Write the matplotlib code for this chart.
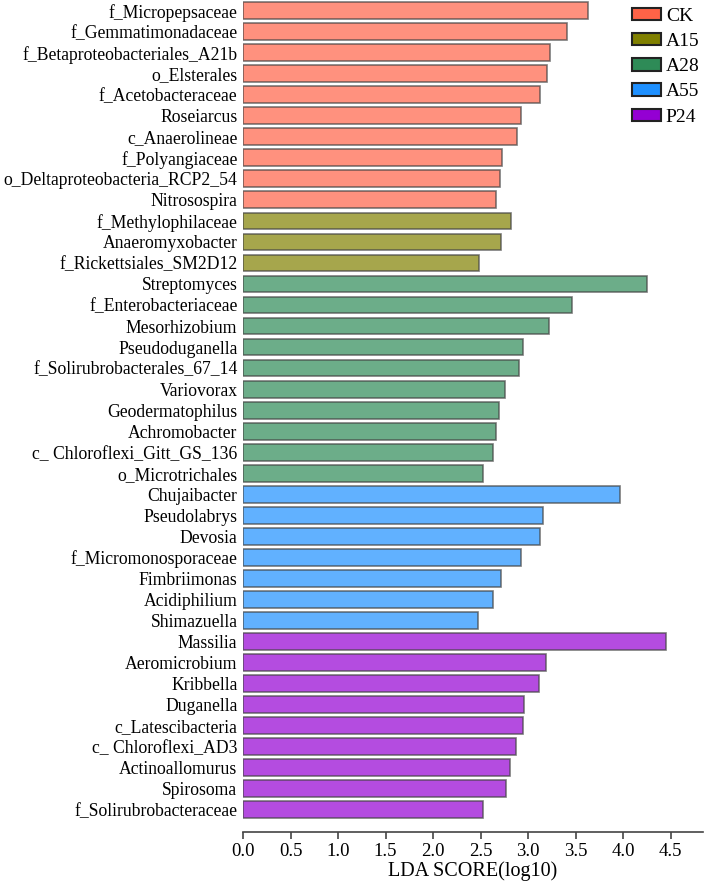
import matplotlib
matplotlib.use('Agg')
from matplotlib import pyplot as plt
from matplotlib.patches import Patch

plt.rcParams['font.family'] = ['Liberation Serif', 'DejaVu Serif']

ck_names = ['f_Micropepsaceae', 'f_Gemmatimonadaceae', 'f_Betaproteobacteriales_A21b',
            'o_Elsterales', 'f_Acetobacteraceae', 'Roseiarcus', 'c_Anaerolineae',
            'f_Polyangiaceae', 'o_Deltaproteobacteria_RCP2_54', 'Nitrosospira']
ck_vals = [3.63, 3.41, 3.23, 3.20, 3.12, 2.92, 2.88, 2.72, 2.70, 2.66]

a15_names = ['f_Methylophilaceae', 'Anaeromyxobacter', 'f_Rickettsiales_SM2D12']
a15_vals = [2.82, 2.71, 2.48]

a28_names = ['Streptomyces', 'f_Enterobacteriaceae', 'Mesorhizobium', 'Pseudoduganella',
             'f_Solirubrobacterales_67_14', 'Variovorax', 'Geodermatophilus',
             'Achromobacter', 'c_ Chloroflexi_Gitt_GS_136', 'o_Microtrichales']
a28_vals = [4.25, 3.46, 3.22, 2.95, 2.90, 2.76, 2.69, 2.66, 2.63, 2.52]

a55_names = ['Chujaibacter', 'Pseudolabrys', 'Devosia', 'f_Micromonosporaceae',
             'Fimbriimonas', 'Acidiphilium', 'Shimazuella']
a55_vals = [3.97, 3.16, 3.13, 2.93, 2.71, 2.63, 2.47]

p24_names = ['Massilia', 'Aeromicrobium', 'Kribbella', 'Duganella', 'c_Latescibacteria',
             'c_ Chloroflexi_AD3', 'Actinoallomurus', 'Spirosoma', 'f_Solirubrobacteraceae']
p24_vals = [4.45, 3.19, 3.11, 2.96, 2.95, 2.87, 2.81, 2.77, 2.53]

groups = ['CK', 'A15', 'A28', 'A55', 'P24']
colors = ['tomato', 'olive', 'seagreen', 'dodgerblue', 'darkviolet']

fig = plt.figure(figsize=(7.09, 8.82), dpi=100)
ax = fig.add_axes([243 / 709, 50 / 882, 460 / 709, 832 / 882])

names, vals, cols = [], [], []
for n, v, c in zip([ck_names, a15_names, a28_names, a55_names, p24_names],
                   [ck_vals, a15_vals, a28_vals, a55_vals, p24_vals], colors):
    names += n
    vals += v
    cols += [c] * len(n)

pos = list(range(len(names)))
ax.barh(pos, vals, height=0.8, color=cols, alpha=0.7, edgecolor='#444444', linewidth=1.2)
ax.set_yticks(pos)
ax.set_yticklabels(names, fontsize=12.7)
ax.set_ylim(len(names) - 1 + 1.07, -0.51)
ax.set_xlim(0, 4.84)
ax.set_xticks([0, 0.5, 1, 1.5, 2, 2.5, 3, 3.5, 4, 4.5])
ax.set_xticklabels(['0.0', '0.5', '1.0', '1.5', '2.0', '2.5', '3.0', '3.5', '4.0', '4.5'], fontsize=13.5)
ax.tick_params(axis='y', length=0, pad=4)
ax.tick_params(axis='x', length=5, width=1.2, color='#444444', pad=3)
ax.set_xlabel('LDA SCORE(log10)', fontsize=14.5, labelpad=1)
for s in ['top', 'right', 'left']:
    ax.spines[s].set_visible(False)
ax.spines['bottom'].set_color('#444444')
ax.spines['bottom'].set_linewidth(1.2)

handles = [Patch(facecolor=c, edgecolor='#222222', linewidth=1.5, label=g) for g, c in zip(groups, colors)]
fig.legend(handles=handles, loc='upper left', bbox_to_anchor=(624 / 709, 1.0), frameon=False,
           fontsize=14, handlelength=1.5, handleheight=0.6, handletextpad=0.25, labelspacing=0.42,
           borderpad=0.2, borderaxespad=0.2)

plt.savefig('out.png')
